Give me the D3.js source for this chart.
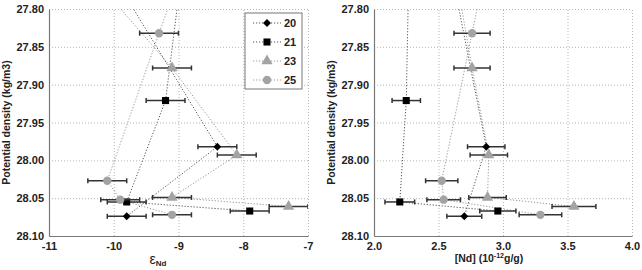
<!DOCTYPE html>
<html>
<head>
<meta charset="utf-8">
<script src="https://cdn.jsdelivr.net/npm/d3@7.9.0/dist/d3.min.js"></script>
<style>
  body { margin: 0; background: #fff; }
  svg { font-family: "Liberation Sans", Arial, sans-serif; font-weight: bold; }
</style>
</head>
<body>
<svg id="chart" width="642" height="270"></svg>
<script>
// station labels
const stations = ["20", "21", "23", "25"];

// potential density of each sample (first point of each profile lies above the plotted range)
const dens20 = [27.75, 27.982, 28.074];
const dens21 = [27.75, 27.921, 28.055, 28.067];
const dens23 = [27.75, 27.878, 27.993, 28.049, 28.061];
const dens25 = [27.75, 27.832, 28.027, 28.052, 28.072];

// epsilon Nd
const eps20 = [-10.05, -8.4, -9.8];
const eps21 = [-8.95, -9.2, -9.8, -7.9];
const eps23 = [-10.4, -9.1, -8.1, -9.1, -7.3];
const eps25 = [-8.96, -9.3, -10.1, -9.9, -9.1];
const epsErr = 0.3;

// Nd concentration (10^-12 g/g) and its error
const nd20 = [2.6, 2.87, 2.7];
const nd21 = [2.27, 2.25, 2.2, 2.96];
const nd23 = [2.63, 2.76, 2.89, 2.88, 3.55];
const nd25 = [2.86, 2.76, 2.525, 2.54, 3.29];
const ndErr20 = [0.15, 0.145, 0.135];
const ndErr21 = [0.11, 0.11, 0.115, 0.14];
const ndErr23 = [0.14, 0.14, 0.145, 0.145, 0.17];
const ndErr25 = [0.13, 0.14, 0.125, 0.13, 0.165];

// axis ticks
const densTicks = [27.8, 27.85, 27.9, 27.95, 28.0, 28.05, 28.1];
const epsTicks = [-11, -10, -9, -8, -7];
const ndTicks = [2.0, 2.5, 3.0, 3.5, 4.0];

const profiles = [
  { name: stations[0], dens: dens20, eps: eps20, nd: nd20, ndErr: ndErr20, shape: d3.symbolDiamond2, size: 40, fill: "#000", line: "#555" },
  { name: stations[1], dens: dens21, eps: eps21, nd: nd21, ndErr: ndErr21, shape: d3.symbolSquare, size: 50, fill: "#000", line: "#555" },
  { name: stations[2], dens: dens23, eps: eps23, nd: nd23, ndErr: ndErr23, shape: d3.symbolTriangle, size: 55, fill: "#a3a3a3", line: "#999" },
  { name: stations[3], dens: dens25, eps: eps25, nd: nd25, ndErr: ndErr25, shape: d3.symbolCircle, size: 55, fill: "#a3a3a3", line: "#999" }
];

const svg = d3.select("#chart");
const plotTop = 9, plotBottom = 236;

const y = d3.scaleLinear().domain([27.8, 28.1]).range([plotTop, plotBottom]);

function panel(id, left, right, domain, ticks, key, errKey, fmt) {
  const x = d3.scaleLinear().domain(domain).range([left, right]);
  const g = svg.append("g");

  g.append("clipPath").attr("id", "clip" + id)
    .append("rect").attr("x", left).attr("y", plotTop)
    .attr("width", right - left).attr("height", plotBottom - plotTop);

  // grid
  g.append("g").attr("transform", `translate(0,${plotBottom})`)
    .call(d3.axisBottom(x).tickValues(ticks.slice(1)).tickSize(-(plotBottom - plotTop)).tickFormat(""))
    .call(a => a.select(".domain").remove())
    .selectAll("line").attr("stroke", "#b5b5b5").attr("stroke-dasharray", "1,2");
  g.append("g").attr("transform", `translate(${left},0)`)
    .call(d3.axisLeft(y).tickValues(densTicks.slice(0, -1)).tickSize(-(right - left)).tickFormat(""))
    .call(a => a.select(".domain").remove())
    .selectAll("line").attr("stroke", "#b5b5b5").attr("stroke-dasharray", "1,2");

  // axes
  const xa = g.append("g").attr("transform", `translate(0,${plotBottom})`)
    .call(d3.axisBottom(x).tickValues(ticks).tickSize(0).tickPadding(6).tickFormat(fmt));
  xa.select(".domain").attr("stroke", "#777").attr("stroke-width", 1.2);
  xa.selectAll("text").attr("font-size", 11).attr("fill", "#222");

  const ya = g.append("g").attr("transform", `translate(${left},0)`)
    .call(d3.axisLeft(y).tickValues(densTicks).tickSize(0).tickPadding(5).tickFormat(d3.format(".2f")));
  ya.select(".domain").attr("stroke", "#777").attr("stroke-width", 1.2);
  ya.selectAll("text").attr("font-size", 11).attr("fill", "#222");

  g.append("text")
    .attr("transform", `translate(${left - 39},${(plotTop + plotBottom) / 2}) rotate(-90)`)
    .attr("text-anchor", "middle").attr("font-size", 10.5).attr("fill", "#222")
    .text("Potential density (kg/m3)");

  const plot = g.append("g").attr("clip-path", `url(#clip${id})`);

  profiles.forEach(p => {
    const pts = p.dens.map((d, i) => ({ d, v: p[key][i] }));
    plot.append("path")
      .attr("d", d3.line().x(q => x(q.v)).y(q => y(q.d))(pts))
      .attr("fill", "none").attr("stroke", p.line).attr("stroke-width", 1)
      .attr("stroke-dasharray", "1.2,1.8");
  });

  profiles.forEach(p => {
    const pts = p.dens.map((d, i) => ({ d, v: p[key][i], e: errKey === null ? epsErr : p[errKey][i] }));
    const eb = plot.append("g").attr("stroke", "#333").attr("stroke-width", 1.5);
    pts.forEach(q => {
      eb.append("line").attr("x1", x(q.v - q.e)).attr("x2", x(q.v + q.e)).attr("y1", y(q.d)).attr("y2", y(q.d));
      eb.append("line").attr("x1", x(q.v - q.e)).attr("x2", x(q.v - q.e)).attr("y1", y(q.d) - 2.5).attr("y2", y(q.d) + 2.5);
      eb.append("line").attr("x1", x(q.v + q.e)).attr("x2", x(q.v + q.e)).attr("y1", y(q.d) - 2.5).attr("y2", y(q.d) + 2.5);
    });
    plot.selectAll(null).data(pts).join("path")
      .attr("transform", q => `translate(${x(q.v)},${y(q.d)})`)
      .attr("d", d3.symbol().type(p.shape).size(p.size))
      .attr("fill", p.fill);
  });

  return x;
}

panel("L", 49, 308, [-11, -7], epsTicks, "eps", null, d => d3.format("d")(d).replace("\u2212", "-"));
panel("R", 374, 632, [2, 4], ndTicks, "nd", "ndErr", d3.format(".1f"));

// x axis titles
const tL = svg.append("text").attr("x", 158).attr("y", 264).attr("text-anchor", "middle").attr("fill", "#222");
tL.append("tspan").attr("font-size", 14).attr("font-weight", "normal").text("ε");
tL.append("tspan").attr("font-size", 8).attr("dy", 2).text("Nd");

const tR = svg.append("text").attr("x", 489).attr("y", 262).attr("text-anchor", "middle").attr("font-size", 10.5).attr("fill", "#222");
tR.append("tspan").text("[Nd] (10");
tR.append("tspan").attr("font-size", 7).attr("dy", -4).text("-12");
tR.append("tspan").attr("dy", 4).text("g/g)");

// legend
const leg = svg.append("g");
leg.append("rect").attr("x", 245).attr("y", 13).attr("width", 57).attr("height", 76)
  .attr("fill", "#fff").attr("stroke", "#777").attr("stroke-width", 1);
profiles.forEach((p, i) => {
  const ly = 23 + i * 19;
  leg.append("line").attr("x1", 253).attr("x2", 281).attr("y1", ly).attr("y2", ly)
    .attr("stroke", p.line).attr("stroke-dasharray", "1.2,1.8");
  leg.append("path").attr("transform", `translate(267,${ly})`)
    .attr("d", d3.symbol().type(p.shape).size(p.size)).attr("fill", p.fill);
  leg.append("text").attr("x", 284).attr("y", ly + 4).attr("font-size", 11).attr("fill", "#222").text(p.name);
});
</script>
</body>
</html>
